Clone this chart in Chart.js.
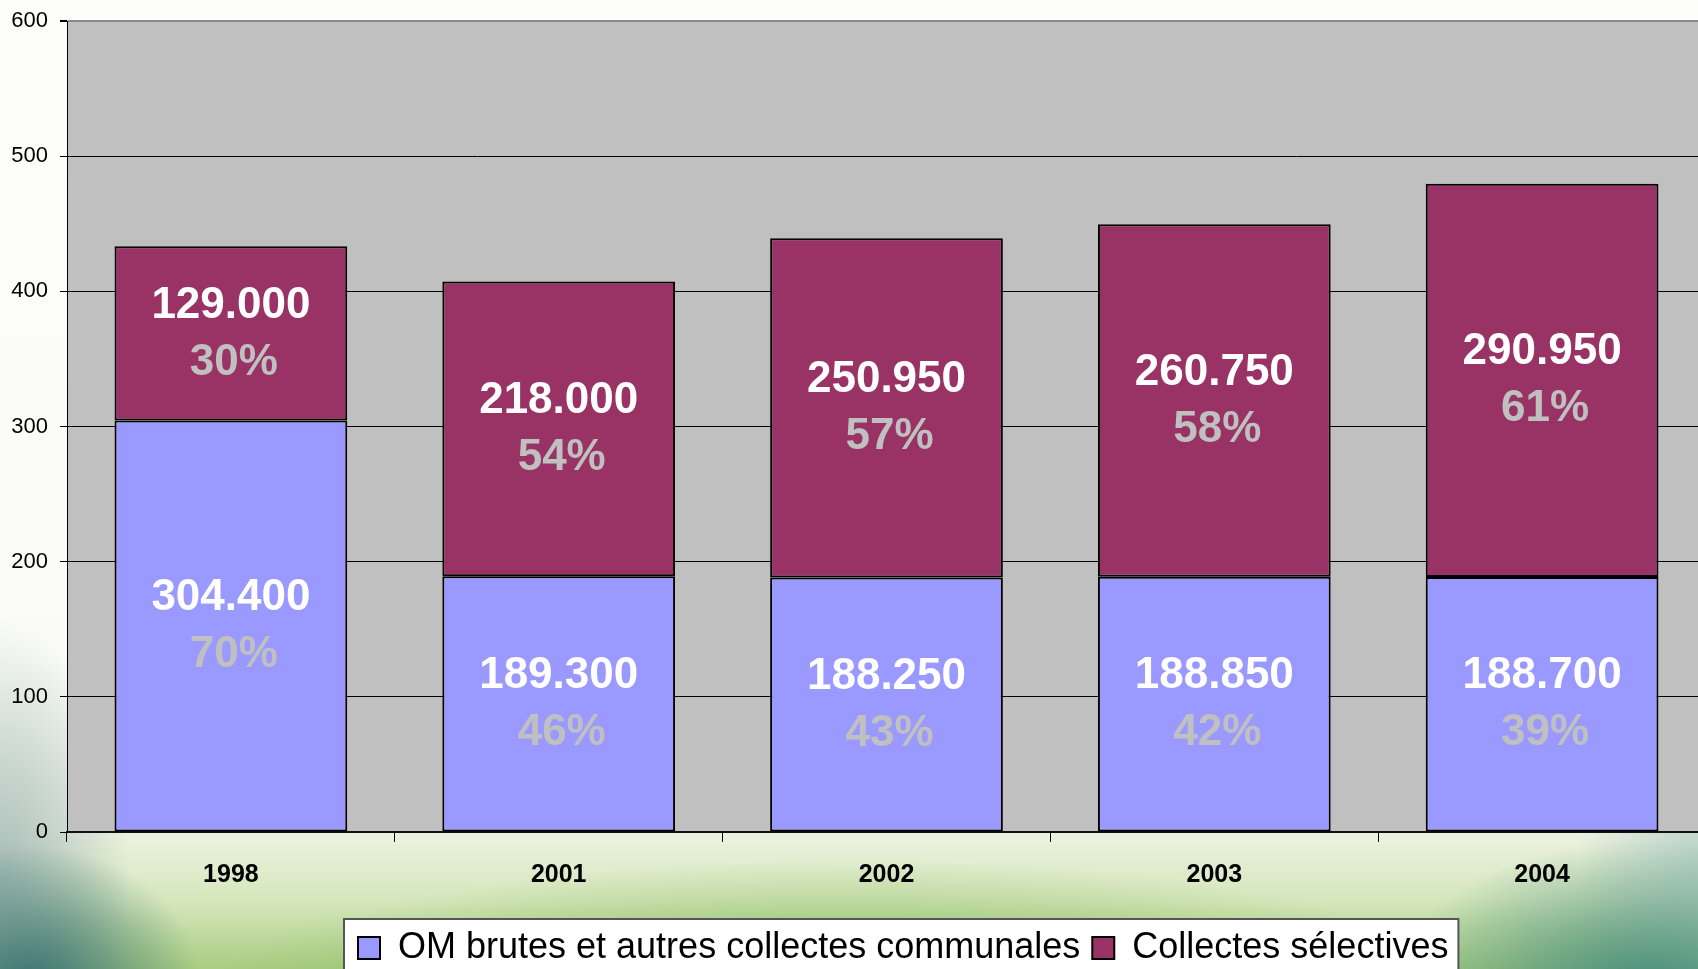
<!DOCTYPE html>
<html>
<head>
<meta charset="utf-8">
<script src="https://cdn.jsdelivr.net/npm/chart.js@4/dist/chart.umd.min.js"></script>
<style>
html, body { margin: 0; padding: 0; overflow: hidden; }
body {
  width: 1698px;
  height: 969px;
  position: relative;
  background:
    radial-gradient(ellipse 170px 140px at 30px 985px, rgba(58,115,115,1), rgba(58,115,115,0)),
    radial-gradient(ellipse 130px 260px at 0px 880px, rgba(150,175,175,0.8), rgba(150,175,175,0)),
    radial-gradient(ellipse 260px 150px at 1650px 990px, rgba(70,140,125,1), rgba(70,140,125,0)),
    radial-gradient(ellipse 120px 200px at 1698px 860px, rgba(170,200,195,0.7), rgba(170,200,195,0)),
    radial-gradient(ellipse 650px 140px at 850px 1000px, rgba(135,185,95,1), rgba(135,185,95,0)),
    linear-gradient(to bottom, #fdfdfb 0px, #fafbf7 660px, #edf2e2 830px, #d6e7bc 900px, #a8cc82 969px);
}
#chart { position: absolute; left: 0; top: 0; }
</style>
</head>
<body>
<canvas id="chart" width="1706" height="976"></canvas>
<script>
// years on the x axis
const years = ["1998", "2001", "2002", "2003", "2004"];
// tonnages (in thousands) for both series
const omBrutes = [304.4, 189.3, 188.25, 188.85, 188.7];
const collectesSel = [129.0, 218.0, 250.95, 260.75, 290.95];
// shares printed under each value
const pctOm = [70, 46, 43, 42, 39];
const pctSel = [30, 54, 57, 58, 61];

const seriesNames = ["OM brutes et autres collectes communales", "Collectes sélectives"];
const pctBySeries = [pctOm, pctSel];

const FONT = "'Liberation Sans', Arial, sans-serif";

// gray plot area + white frame behind the legend
const backdrop = {
  id: "backdrop",
  afterLayout(chart) {
    const lg = chart.legend;
    const pad = lg.options.labels.padding;
    const w = lg.right - lg.left;
    lg.left = 358 - pad;
    lg.right = lg.left + w;
  },
  beforeDraw(chart) {
    const { ctx, chartArea: a } = chart;
    ctx.save();
    ctx.fillStyle = "#c0c0c0";
    ctx.fillRect(a.left, a.top, a.right - a.left, a.bottom - a.top);

    const boxes = chart.legend.legendHitBoxes;
    if (boxes && boxes.length) {
      const first = boxes[0];
      const last = boxes[boxes.length - 1];
      const mid = first.top + first.height / 2;
      const left = first.left - 14;
      const right = last.left + last.width + 10;
      const top = mid - 29;
      ctx.fillStyle = "#ffffff";
      ctx.fillRect(left, top, right - left, chart.height - top + 10);
      ctx.strokeStyle = "#555555";
      ctx.lineWidth = 2;
      ctx.strokeRect(left, top, right - left, chart.height - top + 10);
    }
    ctx.restore();
  }
};

// value + share written inside every segment
const segmentLabels = {
  id: "segmentLabels",
  afterDatasetsDraw(chart) {
    const ctx = chart.ctx;
    ctx.save();
    ctx.font = "bold 44px " + FONT;
    ctx.textAlign = "center";
    ctx.textBaseline = "middle";
    chart.data.datasets.forEach((ds, i) => {
      const meta = chart.getDatasetMeta(i);
      meta.data.forEach((bar, j) => {
        const c = (bar.y + bar.base) / 2;
        ctx.fillStyle = "#ffffff";
        ctx.fillText(ds.data[j].toFixed(3), bar.x, c - 28);
        ctx.fillStyle = "#c0c0c0";
        ctx.fillText(pctBySeries[i][j] + "%", bar.x + 3, c + 29);
      });
    });
    ctx.restore();
  }
};

new Chart(document.getElementById("chart"), {
  type: "bar",
  plugins: [backdrop, segmentLabels],
  data: {
    labels: years,
    datasets: [
      {
        label: seriesNames[0],
        data: omBrutes,
        backgroundColor: "#9999ff",
        borderColor: "#000000",
        borderWidth: 2,
        borderSkipped: false
      },
      {
        label: seriesNames[1],
        data: collectesSel,
        backgroundColor: "#993366",
        borderColor: "#000000",
        borderWidth: 2,
        borderSkipped: false
      }
    ]
  },
  options: {
    responsive: false,
    animation: false,
    layout: { padding: { top: 21, left: 0, right: 0, bottom: 0 } },
    datasets: { bar: { barPercentage: 0.71, categoryPercentage: 1 } },
    plugins: {
      tooltip: { enabled: false },
      legend: {
        position: "bottom",
        align: "start",
        labels: {
          color: "#000000",
          font: { family: FONT, size: 36 },
          boxWidth: 22,
          boxHeight: 22,
          padding: 12
        }
      }
    },
    scales: {
      x: {
        stacked: true,
        afterFit: (s) => { s.height = 86; },
        grid: {
          offset: true,
          drawOnChartArea: false,
          drawTicks: true,
          tickLength: 10,
          tickColor: "#000000"
        },
        border: { display: true, color: "#111111", width: 2 },
        ticks: {
          color: "#000000",
          font: { family: FONT, size: 25, weight: "bold" },
          padding: 18
        }
      },
      y: {
        stacked: true,
        min: 0,
        max: 600,
        afterFit: (s) => { s.width = 67; s.paddingTop = 0; s.paddingBottom = 0; },
        grid: {
          color: (c) => (c.tick && c.tick.value === 600 ? "#8a8a8a" : "#000000"),
          lineWidth: (c) => (c.tick && c.tick.value === 600 ? 2 : 1),
          tickLength: 7,
          tickColor: "#000000"
        },
        border: { display: true, color: "#000000", width: 1 },
        ticks: {
          stepSize: 100,
          color: "#000000",
          font: { family: FONT, size: 22 },
          padding: 12
        }
      }
    }
  }
});
</script>
</body>
</html>
